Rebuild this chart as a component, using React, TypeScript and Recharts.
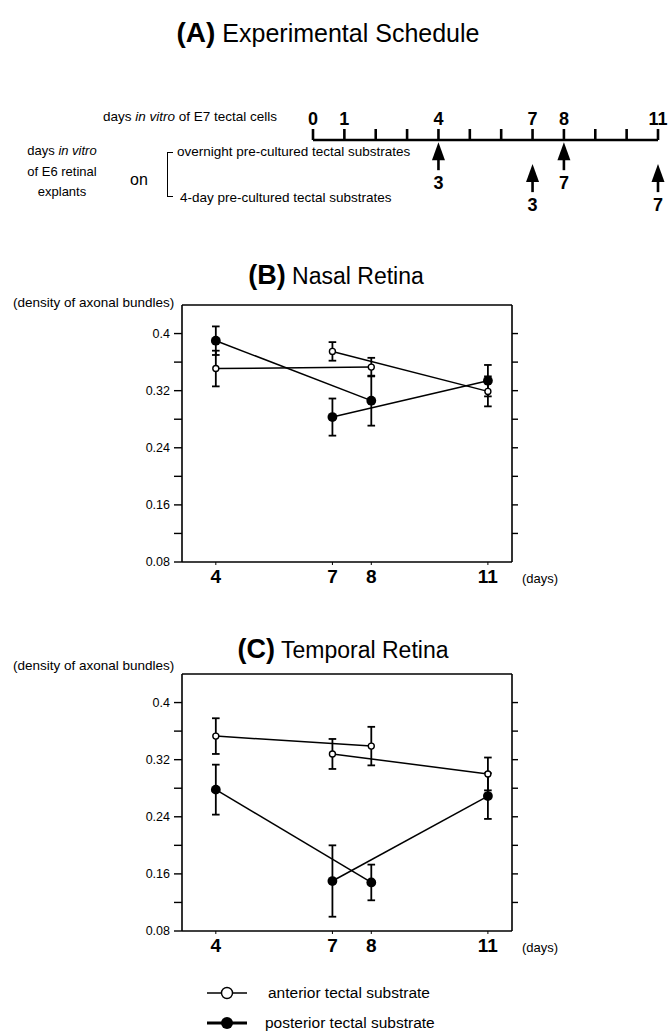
import React from "react";
import { ScatterChart, Scatter, XAxis, YAxis, ErrorBar } from "recharts";

// timeline (A)
const timelineDays = [0, 1, 2, 3, 4, 5, 6, 7, 8, 9, 10, 11];
const timelineLabels = ["0", "1", "", "", "4", "", "", "7", "8", "", "", "11"];
const arrowDays = [4, 8, 7, 11];
const arrowRows = [1, 1, 2, 2]; // 1 = overnight, 2 = 4-day pre-cultured
const arrowLabels = ["3", "7", "3", "7"];

// shared axes for (B) and (C)
const xTicks = [4, 7, 8, 11];
const yTicks = [0.08, 0.12, 0.16, 0.2, 0.24, 0.28, 0.32, 0.36, 0.4];
const yTickLabels = ["0.08", "", "0.16", "", "0.24", "", "0.32", "", "0.4"];
const overnightDays = [4, 8];
const fourDayDays = [7, 11];

// (B) nasal retina
const nasalAntOvernight = [0.351, 0.353];
const nasalAntOvernightErr = [0.025, 0.013];
const nasalPostOvernight = [0.39, 0.306];
const nasalPostOvernightErr = [0.02, 0.035];
const nasalAntFourDay = [0.375, 0.319];
const nasalAntFourDayErr = [0.013, 0.021];
const nasalPostFourDay = [0.283, 0.334];
const nasalPostFourDayErr = [0.026, 0.022];

// (C) temporal retina
const tempAntOvernight = [0.353, 0.339];
const tempAntOvernightErr = [0.025, 0.027];
const tempPostOvernight = [0.278, 0.148];
const tempPostOvernightErr = [0.035, 0.025];
const tempAntFourDay = [0.328, 0.3];
const tempAntFourDayErr = [0.021, 0.023];
const tempPostFourDay = [0.15, 0.269];
const tempPostFourDayErr = [0.05, 0.032];

const font = "'Liberation Sans', Arial, Helvetica, sans-serif";

const pts = (days: number[], vals: number[], errs: number[]) =>
  days.map((d, i) => ({ day: d, value: vals[i], err: errs[i] }));

const T = ({ x, y, size = 13, weight = 400, anchor = "start", children }: any) => {
  const tx = anchor === "middle" ? "-50%" : anchor === "end" ? "-100%" : "0";
  return (
    <div
      style={{
        position: "absolute",
        left: x,
        top: y,
        transform: `translate(${tx}, -50%)`,
        fontSize: size,
        fontWeight: weight,
        lineHeight: 1.15,
        whiteSpace: "nowrap",
        color: "#000",
      }}
    >
      {children}
    </div>
  );
};

const Arrow = (props: any) => {
  const { cx, cy, payload } = props;
  if (cx == null || cy == null) return null;
  return (
    <g>
      <polygon points={`${cx},${cy} ${cx - 6.5},${cy + 18} ${cx + 6.5},${cy + 18}`} fill="#000" />
      <rect x={cx - 1.3} y={cy + 17} width={2.6} height={11} fill="#000" />
      <text x={cx} y={cy + 41} textAnchor="middle" dominantBaseline="central" fontSize={18} fontWeight={700} fontFamily={font}>
        {payload.label}
      </text>
    </g>
  );
};

const OpenDot = (props: any) =>
  props.cx == null ? null : <circle cx={props.cx} cy={props.cy} r={3} fill="#fff" stroke="#000" strokeWidth={1.4} />;
const FilledDot = (props: any) =>
  props.cx == null ? null : <circle cx={props.cx} cy={props.cy} r={4.9} fill="#000" />;

const Schedule = () => {
  const arrows = arrowDays.map((d, i) => ({ day: d, row: arrowRows[i], label: arrowLabels[i] }));
  return (
    <div style={{ position: "absolute", left: 0, top: 100 }}>
      <ScatterChart width={672} height={127} margin={{ top: 0, right: 14, bottom: 30, left: 313 }}>
        <XAxis
          type="number"
          dataKey="day"
          orientation="top"
          domain={[0, 11]}
          ticks={timelineDays}
          interval={0}
          height={40}
          tickSize={11}
          tickMargin={4}
          tickFormatter={(_v: number, i: number) => timelineLabels[i]}
          tick={{ fill: "#000", fontSize: 18, fontWeight: 700 }}
          axisLine={{ stroke: "#000", strokeWidth: 2.6 }}
          tickLine={{ stroke: "#000", strokeWidth: 2.6 }}
        />
        <YAxis type="number" dataKey="row" hide domain={[0.9, 3.5]} reversed width={0} />
        <Scatter data={arrows} shape={Arrow} isAnimationActive={false} />
      </ScatterChart>
    </div>
  );
};

const series = (data: any[], filled: boolean, key: string) => (
  <Scatter
    key={key}
    data={data}
    xAxisId="b"
    yAxisId="l"
    line={{ stroke: "#000", strokeWidth: 1.5 }}
    lineType="joint"
    shape={filled ? FilledDot : OpenDot}
    isAnimationActive={false}
  >
    <ErrorBar dataKey="err" direction="y" width={3.8} stroke="#000" strokeWidth={1.8} />
  </Scatter>
);

const Panel = ({ top, antOn, antOnErr, postOn, postOnErr, antFd, antFdErr, postFd, postFdErr }: any) => (
  <div style={{ position: "absolute", left: 0, top }}>
    <ScatterChart width={672} height={307} margin={{ top: 10, right: 130, bottom: 0, left: 0 }}>
      <XAxis
        xAxisId="b"
        type="number"
        dataKey="day"
        domain={[3.13, 11.62]}
        allowDataOverflow
        ticks={xTicks}
        interval={0}
        height={40}
        tickSize={3}
        tickMargin={5}
        tickLine={{ stroke: "#000", strokeWidth: 1 }}
        tick={{ fill: "#000", fontSize: 19, fontWeight: 700 }}
        axisLine={{ stroke: "#000", strokeWidth: 1.6 }}
      />
      <XAxis
        xAxisId="t"
        type="number"
        orientation="top"
        mirror
        domain={[3.13, 11.62]}
        allowDataOverflow
        ticks={xTicks}
        interval={0}
        tickSize={4}
        tickFormatter={() => ""}
        tickLine={{ stroke: "#000", strokeWidth: 1.2 }}
        axisLine={{ stroke: "#000", strokeWidth: 1.6 }}
      />
      <YAxis
        yAxisId="l"
        type="number"
        dataKey="value"
        domain={[0.08, 0.44]}
        allowDataOverflow
        ticks={yTicks}
        interval={0}
        width={182}
        tickSize={8}
        tickMargin={4}
        tickFormatter={(_v: number, i: number) => yTickLabels[i]}
        tick={{ fill: "#000", fontSize: 12.5 }}
        tickLine={{ stroke: "#000", strokeWidth: 1.4 }}
        axisLine={{ stroke: "#000", strokeWidth: 1.6 }}
      />
      <YAxis
        yAxisId="r"
        type="number"
        orientation="right"
        domain={[0.08, 0.44]}
        allowDataOverflow
        ticks={yTicks.slice(1)}
        interval={0}
        width={30}
        tickSize={6}
        tickFormatter={() => ""}
        tickLine={{ stroke: "#000", strokeWidth: 1.4 }}
        axisLine={{ stroke: "#000", strokeWidth: 1.6 }}
      />
      {series(pts(overnightDays, antOn, antOnErr), false, "ao")}
      {series(pts(overnightDays, postOn, postOnErr), true, "po")}
      {series(pts(fourDayDays, antFd, antFdErr), false, "af")}
      {series(pts(fourDayDays, postFd, postFdErr), true, "pf")}
    </ScatterChart>
  </div>
);

export default function App() {
  return (
    <div style={{ position: "absolute", left: 0, top: 0, width: 672, height: 1032, background: "#fff", fontFamily: font, overflow: "hidden" }}>
      <T x={328} y={33} anchor="middle">
        <span style={{ fontSize: 28, fontWeight: 700 }}>(A)</span>
        <span style={{ fontSize: 25 }}> Experimental Schedule</span>
      </T>

      <T x={277} y={117} anchor="end" size={13.5}>
        days <i>in vitro</i> of E7 tectal cells
      </T>
      <T x={62} y={151} anchor="middle" size={13}>
        days <i>in vitro</i>
      </T>
      <T x={62} y={172} anchor="middle" size={13}>of E6 retinal</T>
      <T x={62} y={192} anchor="middle" size={13}>explants</T>
      <T x={130} y={180} size={16}>on</T>
      <div
        style={{
          position: "absolute",
          left: 167,
          top: 152,
          width: 5,
          height: 43,
          borderLeft: "1.5px solid #000",
          borderTop: "1.5px solid #000",
          borderBottom: "1.5px solid #000",
        }}
      />
      <T x={177} y={152} size={13.5}>overnight pre-cultured tectal substrates</T>
      <T x={180} y={198} size={13.5}>4-day pre-cultured tectal substrates</T>
      <Schedule />

      <T x={336} y={276} anchor="middle">
        <span style={{ fontSize: 27, fontWeight: 700 }}>(B)</span>
        <span style={{ fontSize: 23 }}> Nasal Retina</span>
      </T>
      <T x={13} y={303} size={13.5}>(density of axonal bundles)</T>
      <Panel
        top={295}
        antOn={nasalAntOvernight}
        antOnErr={nasalAntOvernightErr}
        postOn={nasalPostOvernight}
        postOnErr={nasalPostOvernightErr}
        antFd={nasalAntFourDay}
        antFdErr={nasalAntFourDayErr}
        postFd={nasalPostFourDay}
        postFdErr={nasalPostFourDayErr}
      />
      <T x={522} y={579} size={13}>(days)</T>

      <T x={343} y={650} anchor="middle">
        <span style={{ fontSize: 27, fontWeight: 700 }}>(C)</span>
        <span style={{ fontSize: 23 }}> Temporal Retina</span>
      </T>
      <T x={13} y={666} size={13.5}>(density of axonal bundles)</T>
      <Panel
        top={664}
        antOn={tempAntOvernight}
        antOnErr={tempAntOvernightErr}
        postOn={tempPostOvernight}
        postOnErr={tempPostOvernightErr}
        antFd={tempAntFourDay}
        antFdErr={tempAntFourDayErr}
        postFd={tempPostFourDay}
        postFdErr={tempPostFourDayErr}
      />
      <T x={522} y={948} size={13}>(days)</T>

      <div style={{ position: "absolute", left: 207, top: 985 }}>
        <svg width={40} height={16}>
          <line x1={0} y1={8} x2={40} y2={8} stroke="#000" strokeWidth={1.4} />
          <circle cx={20} cy={8} r={5.5} fill="#fff" stroke="#000" strokeWidth={1.4} />
        </svg>
      </div>
      <T x={268} y={993} size={15.5}>anterior tectal substrate</T>
      <div style={{ position: "absolute", left: 207, top: 1015 }}>
        <svg width={40} height={16}>
          <line x1={0} y1={8} x2={40} y2={8} stroke="#000" strokeWidth={2.8} />
          <circle cx={20} cy={8} r={6} fill="#000" />
        </svg>
      </div>
      <T x={265} y={1023} size={15.5}>posterior tectal substrate</T>
    </div>
  );
}
